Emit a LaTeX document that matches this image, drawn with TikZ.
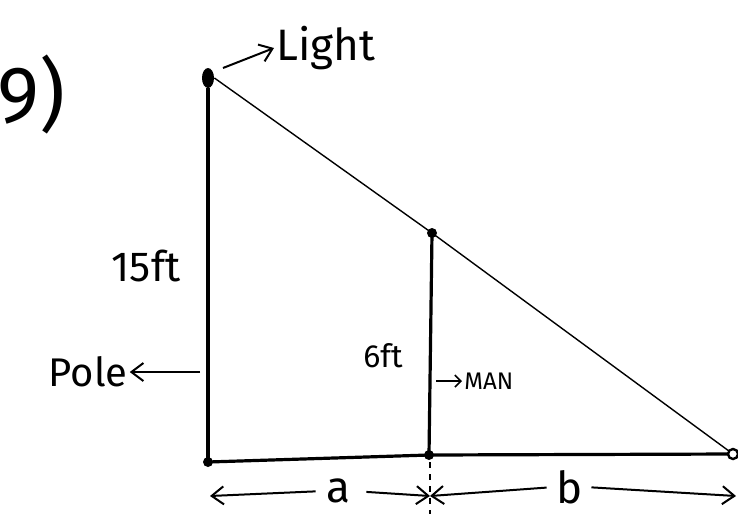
\documentclass[tikz,border=0pt]{standalone}
\usepackage{fontspec}
\setmainfont{Fira Sans}
\usetikzlibrary{arrows.meta, shapes, positioning}

\begin{document}
\begin{tikzpicture}[x=0.5pt, y=-0.5pt,
    pen/.style={line width=1pt, -{Straight Barb[length=6pt, width=9pt]}},
    thickline/.style={line width=1.6pt, line cap=round},
    raytxt/.style={inner sep=1pt, font=\fontsize{20}{20}\selectfont}]
  % frame
  \useasboundingbox (0,0) rectangle (738,515);

  % points of the figure
  \node[ellipse, fill, minimum width=6pt, minimum height=10pt, inner sep=0pt] (light) at (208,78) {};
  \coordinate (base) at (208,462);
  \coordinate (mantop) at (432,233);
  \coordinate (manfoot) at (429,455);
  \coordinate (tip) at (733,454);

  % pole, man, ground
  \draw[line width=2pt] (light.south) -- (base);
  \draw[thickline] (mantop) -- (manfoot);
  \draw[thickline] (base) -- (manfoot) -- (tip);
  \draw[line width=0.7pt] (light.east) -- (mantop) -- (tip);
  \fill (base) circle (2.5pt);
  \fill (manfoot) circle (2.5pt);
  \fill (mantop) circle (2.5pt);
  \draw[line width=1.2pt, fill=white] (tip) circle (2.5pt);

  % labels
  \node[font=\fontsize{40}{40}\selectfont] (num) at (31,94) {9)};
  \node[font=\fontsize{22}{22}\selectfont, inner sep=1pt, anchor=west] (lightlbl) at (274,48) {Light};
  \node[raytxt] (polelbl) at (88,372) {Pole};
  \node[font=\fontsize{21}{21}\selectfont] (h15) at (146,266) {15ft};
  \node[font=\fontsize{16}{16}\selectfont] (h6) at (383,356) {6ft};
  \node[font=\fontsize{12}{12}\selectfont, anchor=west, inner sep=1pt] (manlbl) at (462,381) {MAN};

  \coordinate (lightfrom) at (223,68);
  \draw[pen] (lightfrom) -- (lightlbl.west);
  \coordinate (polefrom) at (200,372);
  \draw[pen] (polefrom) -- (polelbl.east);
  \coordinate (manfrom) at (436,381);
  \draw[line width=0.8pt, -{Straight Barb[length=3pt, width=6pt]}] (manfrom) -- (manlbl.west);

  % lengths a and b
  \coordinate (dl) at (210,496);
  \coordinate (dm) at (430,496);
  \coordinate (dr) at (736,496);
  \draw[line width=0.6pt, dashed] (430,462) -- (430,514);
  \node[font=\fontsize{22}{22}\selectfont, inner sep=1pt] (alabel) at (338,491) {a};
  \node[font=\fontsize{22}{22}\selectfont, inner sep=1pt] (blabel) at (570,487) {b};
  \draw[pen, shorten <=4pt] (alabel.west) -- (dl);
  \draw[pen, shorten <=7pt] (alabel.east) -- (dm);
  \draw[pen, shorten <=4pt] (blabel.west) -- (dm);
  \draw[pen, shorten <=3pt] (blabel.east) -- (dr);
\end{tikzpicture}
\end{document}
